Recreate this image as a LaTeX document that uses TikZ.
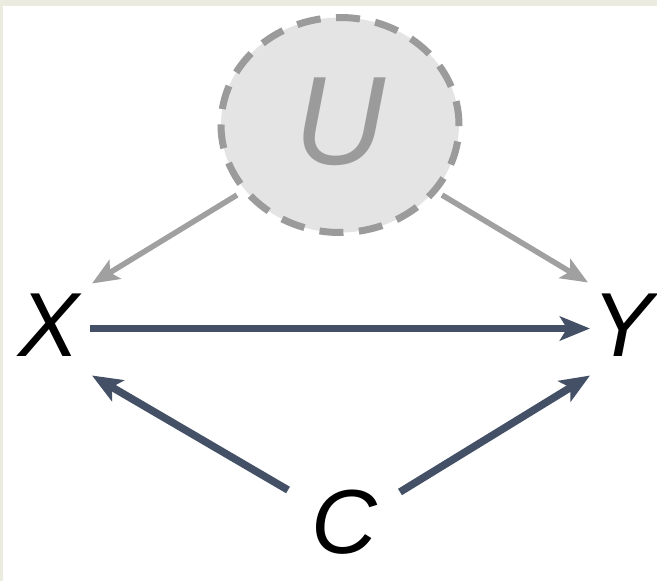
\documentclass[tikz,border=0pt]{standalone}
\usepackage{fontspec}
\setmainfont{Liberation Sans}
\usetikzlibrary{arrows.meta}
\definecolor{bgbeige}{HTML}{EBEBE0}
\definecolor{darkarrow}{HTML}{445066}
\definecolor{grayarrow}{HTML}{A0A0A0}
\definecolor{ufill}{HTML}{E4E4E4}
\definecolor{ustroke}{HTML}{9B9B9B}
\tikzset{
  varlabel/.style={inner sep=0pt, font=\fontsize{91}{91}\selectfont\itshape},
  darkedge/.style={draw=darkarrow, line width=7.5pt, -{Stealth[length=30pt,width=24pt,inset=7pt]}},
  grayedge/.style={draw=grayarrow, line width=5.5pt, -{Stealth[length=27pt,width=22pt,inset=6pt]}},
  latentnode/.style={ellipse, draw=ustroke, fill=ufill, line width=7pt,
     dash pattern=on 24pt off 15.5pt, minimum width=238pt, minimum height=215pt, inner sep=0pt},
}
\usetikzlibrary{shapes.geometric}
\begin{document}
\begin{tikzpicture}[x=1pt,y=-1pt]
\useasboundingbox (0,0) rectangle (657,581);
\fill[bgbeige] (0,0) rectangle (657,581);
\fill[white] (3,6) rectangle (657,581);
\node[latentnode] (U) at (340,125) {};
\node[inner sep=0pt, text=ustroke, font=\fontsize{126}{126}\selectfont\itshape] (Ul) at (340,122) {U};
\node[varlabel] (X) at (49,325.5) {X};
\node[varlabel] (Y) at (623,325.5) {Y};
\node[varlabel] (C) at (344,522) {C};
\draw[darkedge] ([shift={(41,3)}]X.center) -- ([shift={(-33,3)}]Y.center);
\draw[darkedge] ([shift={(-56,-32)}]C.center) -- ([shift={(43,50)}]X.center);
\draw[darkedge] ([shift={(56,-30)}]C.center) -- ([shift={(-33,50)}]Y.center);
\draw[grayedge] ([shift={(-103,70)}]U.center) -- ([shift={(43,-42)}]X.center);
\draw[grayedge] ([shift={(102,70)}]U.center) -- ([shift={(-35,-43)}]Y.center);
\end{tikzpicture}
\end{document}
